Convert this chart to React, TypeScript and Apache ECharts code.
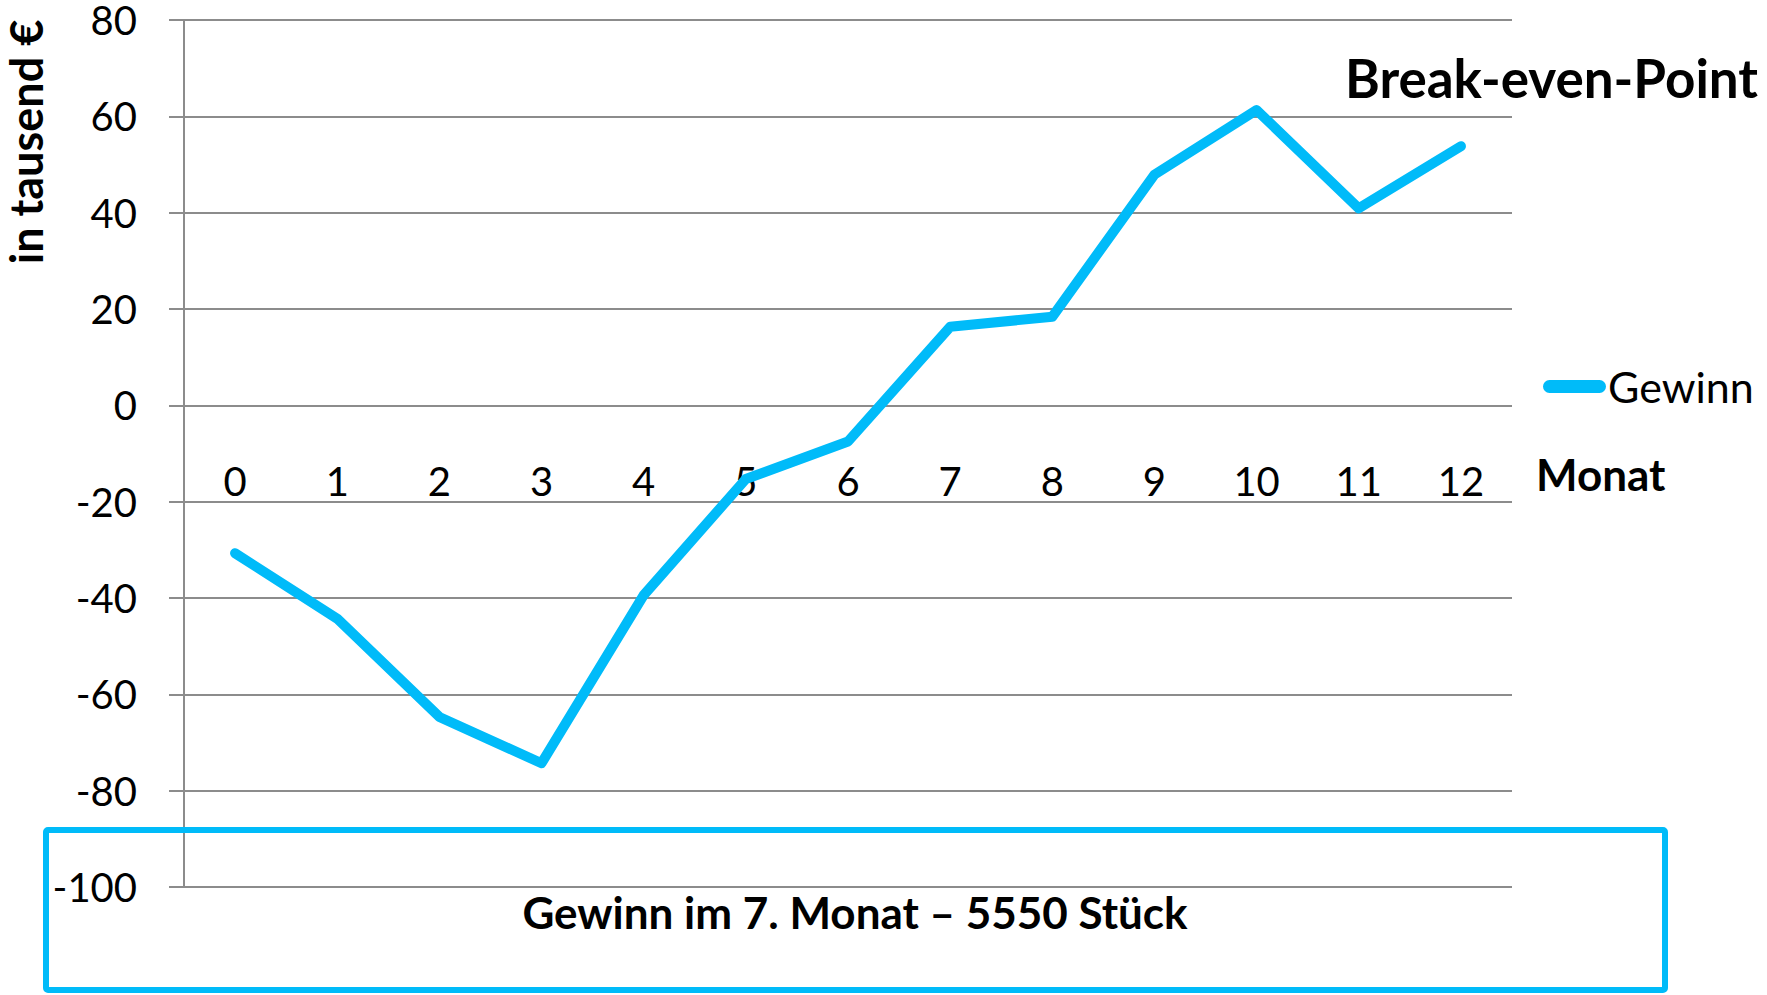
import React, { useEffect, useRef } from "react";
import * as echarts from "echarts";

const months = ["0", "1", "2", "3", "4", "5", "6", "7", "8", "9", "10", "11", "12"];
const gewinn = [-30.7, -44.3, -64.7, -74.3, -39.4, -15.3, -7.5, 16.3, 18.4, 47.9, 61.3, 40.9, 53.8];
const seriesName = "Gewinn";
const chartTitle = "Break-even-Point";
const yAxisTitle = "in tausend €";
const xAxisTitle = "Monat";
const noteText = "Gewinn im 7. Monat – 5550 Stück";

const BLUE = "#00BBF9";
const GRID = "#8c8c8c";
const FONT = "Lato, 'Open Sans', sans-serif";

export default function App() {
  const ref = useRef<HTMLDivElement>(null);
  useEffect(() => {
    if (!ref.current) return;
    const chart = echarts.init(ref.current, undefined, { renderer: "svg" });
    chart.setOption({
      animation: false,
      backgroundColor: "#ffffff",
      textStyle: { fontFamily: FONT },
      grid: { left: 184, right: 255, top: 20, bottom: 108, containLabel: false },
      legend: {
        data: [seriesName],
        left: 1538,
        top: 360,
        orient: "vertical",
        icon: "path://M6.5,0 H57.5 A6.5,6.5 0 0 1 57.5,13 H6.5 A6.5,6.5 0 0 1 6.5,0 Z",
        itemWidth: 63,
        itemHeight: 13,
        textStyle: { fontSize: 43, color: "#000", fontFamily: FONT, padding: [0, 0, 0, -3] },
      },
      xAxis: {
        type: "category",
        data: months,
        boundaryGap: true,
        position: "bottom",
        offset: -482,
        axisLine: { show: false, onZero: false },
        axisTick: { show: false },
        axisLabel: {
          fontSize: 40,
          color: "#000",
          fontFamily: FONT,
          margin: 76,
          verticalAlign: "middle",
        },
        splitLine: { show: false },
      },
      yAxis: {
        type: "value",
        min: -100,
        max: 80,
        interval: 20,
        axisLine: { show: true, lineStyle: { color: GRID, width: 2 } },
        axisTick: { show: true, length: 15, lineStyle: { color: GRID, width: 2 } },
        axisLabel: { fontSize: 40, lineHeight: 36, color: "#000", fontFamily: FONT, margin: 47 },
        splitLine: { show: true, lineStyle: { color: GRID, width: 2 } },
      },
      series: [
        {
          name: seriesName,
          type: "line",
          data: gewinn,
          symbol: "none",
          lineStyle: { color: BLUE, width: 10, cap: "round", join: "round" },
          itemStyle: { color: BLUE },
          z: 3,
        },
      ],
      graphic: [
        {
          type: "text",
          x: 1345,
          y: 77,
          style: { text: chartTitle, font: `bold 53px ${FONT}`, fill: "#000", align: "left", verticalAlign: "middle" },
        },
        {
          type: "text",
          x: 26,
          y: 142,
          rotation: Math.PI / 2,
          style: {
            text: yAxisTitle,
            font: `bold 45px ${FONT}`,
            lineHeight: 40,
            fill: "#000",
            align: "center",
            verticalAlign: "middle",
          },
        },
        {
          type: "text",
          x: 1536,
          y: 474,
          style: { text: xAxisTitle, font: `bold 44px ${FONT}`, fill: "#000", align: "left", verticalAlign: "middle" },
        },
        {
          type: "rect",
          shape: { x: 46, y: 830, width: 1619, height: 160, r: 2 },
          style: { fill: "none", stroke: BLUE, lineWidth: 6 },
          z: 10,
        },
        {
          type: "text",
          x: 855,
          y: 912,
          style: { text: noteText, font: `bold 44px ${FONT}`, fill: "#000", align: "center", verticalAlign: "middle" },
          z: 10,
        },
      ],
    });
    return () => chart.dispose();
  }, []);
  return (
    <div
      ref={ref}
      style={{ position: "absolute", left: 0, top: 0, width: 1767, height: 995 }}
    />
  );
}
